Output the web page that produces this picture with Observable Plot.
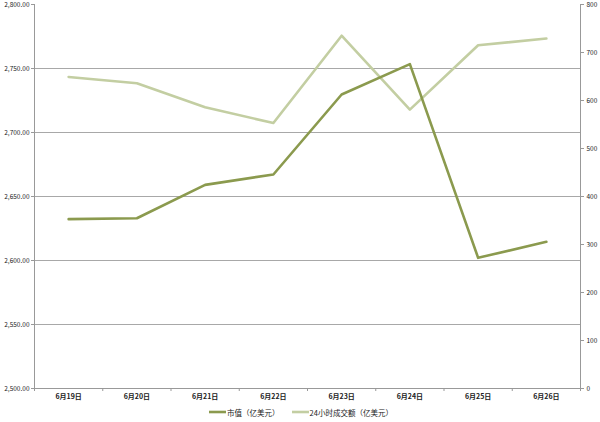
<!DOCTYPE html>
<html><head><meta charset="utf-8">
<script src="https://cdn.jsdelivr.net/npm/d3@7"></script>
<script src="https://cdn.jsdelivr.net/npm/@observablehq/plot@0.6"></script>
<style>
body{margin:0;background:#fff;width:600px;height:422px;overflow:hidden;font-family:"Noto Sans CJK SC","Liberation Sans",sans-serif}
#legend{height:20px;display:flex;justify-content:center;align-items:center;font-size:7.5px;color:#222;gap:12px;padding-left:2px}
#legend span.item{display:flex;align-items:center;gap:1px}
</style></head><body><div id="chart"></div><div id="legend"></div>
<script>
const dates = ["6月19日","6月20日","6月21日","6月22日","6月23日","6月24日","6月25日","6月26日"];
const marketCap = [2632.3, 2633.0, 2659.1, 2667.2, 2729.7, 2753.4, 2602.1, 2614.6];
const volume = [649, 636, 586, 553, 735, 581, 715, 729];
const leftTicks = [2500, 2550, 2600, 2650, 2700, 2750, 2800];
const rightTicks = [0, 100, 200, 300, 400, 500, 600, 700, 800];
const seriesNames = ["市值（亿美元）", "24小时成交额（亿美元）"];
const colors = ["#8b9a4e", "#c3cea2"];

const leftDomain = [2500, 2800];
const rightDomain = [0, 800];
const toLeft = v => leftDomain[0] + (v - rightDomain[0]) * (leftDomain[1] - leftDomain[0]) / (rightDomain[1] - rightDomain[0]);
const fromLeft = y => (y - leftDomain[0]) * (rightDomain[1] - rightDomain[0]) / (leftDomain[1] - leftDomain[0]) + rightDomain[0];

const idx = dates.map((d, i) => i);
const bounds = d3.range(dates.length + 1).map(i => i - 0.5);
const mcData = idx.map(i => ({x: i, y: marketCap[i]}));
const volData = idx.map(i => ({x: i, y: toLeft(volume[i])}));
const grid = leftTicks.slice(1, -1);

const chart = Plot.plot({
  width: 600,
  height: 402,
  marginLeft: 34,
  marginRight: 20,
  marginTop: 4,
  marginBottom: 14,
  style: {background: "#fff", fontFamily: "'Noto Sans CJK SC','Liberation Sans',sans-serif", fontSize: "7px", color: "#222"},
  x: {type: "linear", domain: [-0.5, dates.length - 0.5]},
  y: {domain: leftDomain},
  marks: [
    Plot.ruleY(grid, {stroke: "#a8a8a8", strokeWidth: 1}),
    Plot.ruleY([leftDomain[0]], {stroke: "#999", strokeWidth: 1}),
    Plot.ruleX([-0.5], {stroke: "#999"}),
    Plot.ruleX([dates.length - 0.5], {stroke: "#999"}),
    Plot.axisY({anchor: "left", ticks: leftTicks, tickFormat: d3.format(",.2f"), tickSize: 3, tickPadding: 2, stroke: "#999", fontSize: 6.5, label: null}),
    Plot.axisY({anchor: "right", ticks: rightTicks.map(toLeft), tickFormat: d => String(Math.round(fromLeft(d))), tickSize: 3, tickPadding: 3, stroke: "#999", fontSize: 6.5, label: null}),
    Plot.axisX({ticks: bounds, tickFormat: () => "", tickSize: 3, stroke: "#999", label: null}),
    Plot.axisX({ticks: idx, tickFormat: i => dates[i], tickSize: 0, tickPadding: 6, fontWeight: "bold", fontSize: 7, label: null}),
    Plot.line(volData, {x: "x", y: "y", stroke: colors[1], strokeWidth: 2.6}),
    Plot.line(mcData, {x: "x", y: "y", stroke: colors[0], strokeWidth: 2.6})
  ]
});
document.getElementById("chart").appendChild(chart);

const legend = document.getElementById("legend");
seriesNames.forEach((name, i) => {
  const item = document.createElement("span");
  item.className = "item";
  item.innerHTML = `<svg width="17" height="6"><line x1="0" y1="3" x2="17" y2="3" stroke="${colors[i]}" stroke-width="2.6"/></svg><span>${name}</span>`;
  legend.appendChild(item);
});
</script>
</body></html>
